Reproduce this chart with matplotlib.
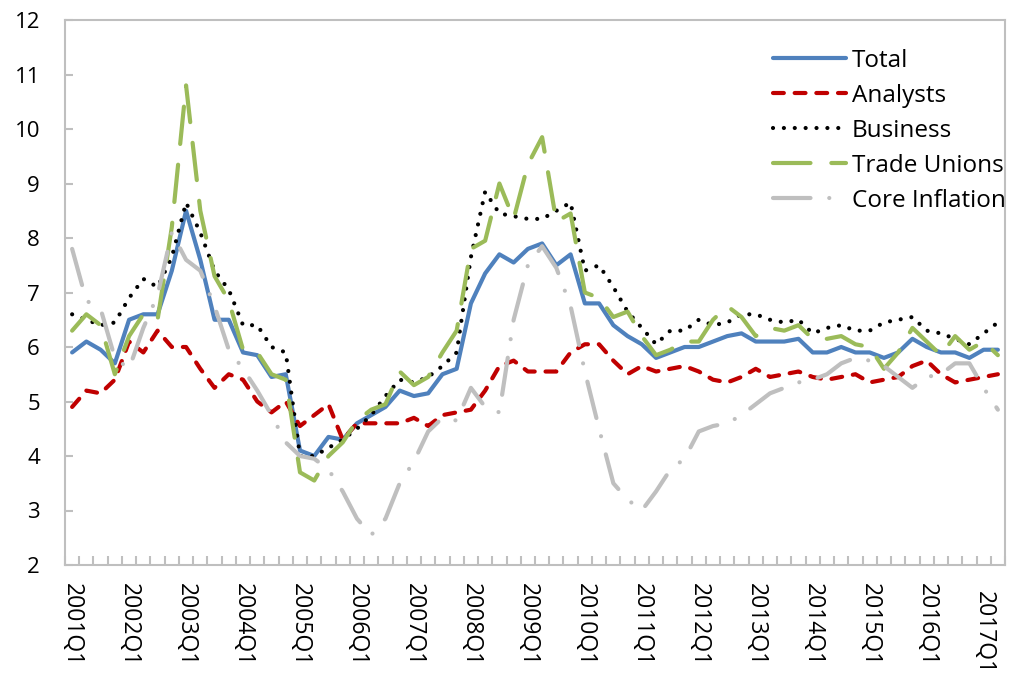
import numpy as np
import matplotlib
matplotlib.use('Agg')
import matplotlib.pyplot as plt
import matplotlib.transforms as mtransforms

plt.rcParams['font.family'] = ['Open Sans', 'DejaVu Sans']

# quarters 2001Q1 .. 2017Q2
years = list(range(2001, 2018))
quarters = ['%dQ%d' % (y, q) for y in years for q in range(1, 5)][:66]

total = [5.9, 6.1, 5.95, 5.7, 6.5, 6.6, 6.6, 7.4, 8.5, 7.6, 6.5, 6.5,
         5.9, 5.85, 5.45, 5.5, 4.1, 4.0, 4.35, 4.3, 4.6, 4.75, 4.9, 5.2,
         5.1, 5.15, 5.5, 5.6, 6.8, 7.35, 7.7, 7.55, 7.8, 7.9, 7.5, 7.7,
         6.8, 6.8, 6.4, 6.2, 6.05, 5.8, 5.9, 6.0, 6.0, 6.1, 6.2, 6.25,
         6.1, 6.1, 6.1, 6.15, 5.9, 5.9, 6.0, 5.9, 5.9, 5.8, 5.9, 6.15,
         6.0, 5.9, 5.9, 5.8, 5.95, 5.95]
analysts = [4.9, 5.2, 5.15, 5.4, 6.1, 5.9, 6.3, 6.0, 6.0, 5.6, 5.25, 5.5,
            5.4, 5.0, 4.8, 5.0, 4.55, 4.75, 4.95, 4.3, 4.6, 4.6, 4.6, 4.6,
            4.7, 4.55, 4.75, 4.8, 4.85, 5.2, 5.65, 5.75, 5.55, 5.55, 5.55, 5.9,
            6.05, 6.05, 5.75, 5.5, 5.65, 5.55, 5.6, 5.65, 5.55, 5.4, 5.35, 5.45,
            5.6, 5.45, 5.5, 5.55, 5.45, 5.4, 5.45, 5.5, 5.35, 5.4, 5.45, 5.65,
            5.75, 5.5, 5.35, 5.4, 5.45, 5.5]
business = [6.6, 6.5, 6.4, 6.45, 6.9, 7.25, 7.1, 7.65, 8.65, 8.1, 7.4, 7.05,
            6.4, 6.4, 6.0, 5.9, 4.0, 4.0, 4.15, 4.3, 4.5, 4.75, 5.1, 5.4,
            5.35, 5.45, 5.65, 5.9, 7.65, 8.85, 8.45, 8.4, 8.35, 8.35, 8.5, 8.65,
            7.4, 7.5, 7.1, 6.65, 6.35, 6.05, 6.3, 6.3, 6.5, 6.4, 6.45, 6.6,
            6.6, 6.5, 6.45, 6.5, 6.25, 6.35, 6.4, 6.3, 6.3, 6.45, 6.5, 6.55,
            6.3, 6.25, 6.15, 6.05, 6.25, 6.45]
unions = [6.3, 6.6, 6.4, 5.5, 6.2, 6.6, 6.5, 8.2, 10.8, 8.5, 7.3, 6.85,
          5.95, 5.9, 5.5, 5.4, 3.7, 3.55, 4.0, 4.25, 4.65, 4.85, 4.95, 5.55,
          5.3, 5.45, 5.9, 6.3, 7.8, 7.95, 9.0, 8.35, 9.35, 9.85, 8.3, 8.45,
          7.0, 6.9, 6.55, 6.65, 6.2, 5.85, 5.95, 6.1, 6.1, 6.5, 6.75, 6.55,
          6.2, 6.35, 6.3, 6.4, 6.15, 6.15, 6.2, 6.05, 6.0, 5.6, 5.9, 6.35,
          6.1, 5.85, 6.2, 5.95, 6.1, 5.85]
core = [7.8, 6.85, 6.7, 5.8, 5.6, 6.35, 6.95, 8.1, 7.6, 7.4, 6.75, 5.95,
        5.6, 5.2, 4.75, 4.25, 4.0, 3.95, 3.75, 3.35, 2.85, 2.55, 2.85, 3.5,
        3.9, 4.45, 4.7, 4.65, 5.25, 4.9, 4.8, 6.5, 7.5, 7.85, 7.45, 6.75,
        5.55, 4.5, 3.5, 3.2, 3.0, 3.35, 3.75, 3.95, 4.45, 4.55, 4.6, 4.75,
        4.95, 5.15, 5.25, 5.35, 5.4, 5.5, 5.7, 5.8, 5.75, 5.65, 5.45, 5.25,
        5.45, 5.5, 5.7, 5.7, 5.25, 4.85]

fig = plt.figure(figsize=(10.12, 6.82), dpi=100)
ax = fig.add_axes([65/1012, 1-565/682, 940/1012, 545/682])

x = np.arange(len(quarters))
lw = 3
ax.plot(x, total, color='#4F81BD', lw=lw, solid_capstyle='round',
        solid_joinstyle='round', label='Total')
ax.plot(x, analysts, color='#C00000', lw=lw, ls=(0, (2.6, 2.6)),
        dash_capstyle='round', label='Analysts')
ax.plot(x, business, color='black', lw=lw, ls=(0, (0.01, 2.6)),
        dash_capstyle='round', label='Business')
ax.plot(x, unions, color='#9BBB59', lw=lw, ls=(0, (9, 5)),
        dash_capstyle='round', label='Trade Unions')
ax.plot(x, core, color='#BFBFBF', lw=lw, ls=(0, (9, 4.5, 0.01, 4.5)),
        dash_capstyle='round', label='Core Inflation')

ax.set_xlim(-0.5, len(quarters) - 0.5)
ax.set_ylim(2, 12)
ax.set_yticks(range(2, 13))

ax.set_xticks(x[::4])
ax.set_xticklabels(quarters[::4], rotation=270)
ax.set_xticks(np.arange(-0.5, len(quarters), 1), minor=True)

grey = '#BFBFBF'
for s in ax.spines.values():
    s.set_color(grey)
    s.set_linewidth(1.5)
ax.tick_params(axis='y', direction='in', length=6, width=1.5, color=grey,
               labelsize=16, pad=18)
ax.tick_params(axis='x', which='major', length=0, labelsize=16.5, pad=13)
ax.tick_params(axis='x', which='minor', direction='in', length=6.5,
               width=1.5, color=grey)

# last label sits a bit lower in the original
lab = ax.get_xticklabels()[-1]
lab.set_transform(lab.get_transform() +
                  mtransforms.ScaledTranslation(0, -0.08, fig.dpi_scale_trans))

ax.legend(loc='upper left', bbox_to_anchor=(773/1012, 1-49/682),
          bbox_transform=fig.transFigure, frameon=False, fontsize=17.5,
          handlelength=3.0, handletextpad=0.25, labelspacing=0.45,
          borderpad=0, borderaxespad=0)

fig.savefig('out.png', dpi=100)
